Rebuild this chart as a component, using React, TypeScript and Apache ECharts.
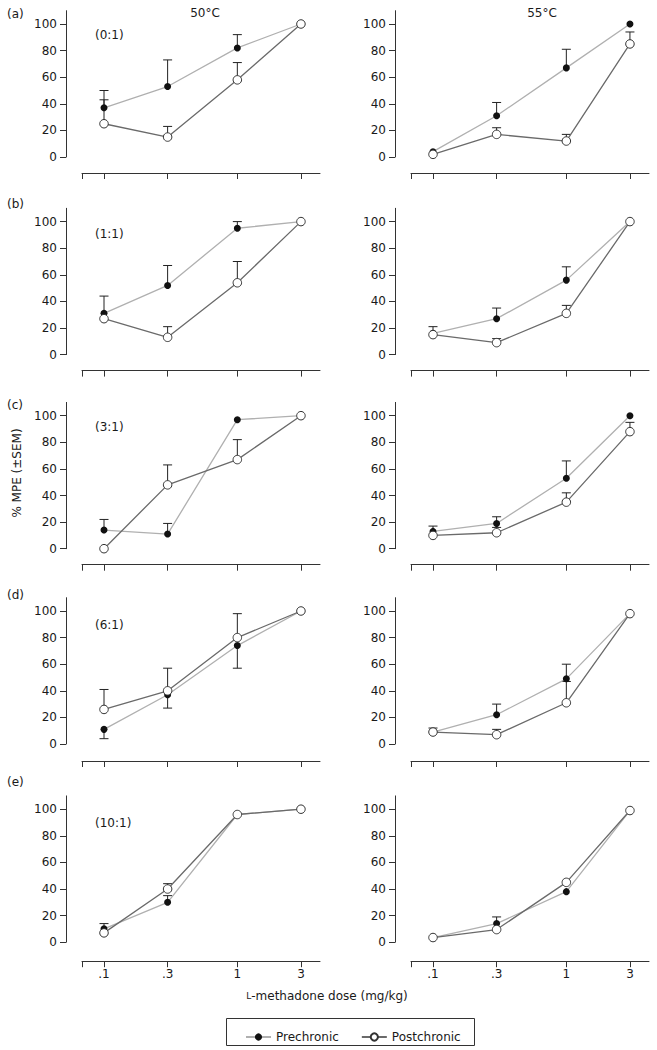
import React, { useEffect, useRef } from 'react';
import * as echarts from 'echarts';

// ---------- data ----------
const doses = [0.1, 0.3, 1, 3];
const doseLabels = ['.1', '.3', '1', '3'];
const yTickValues = [0, 20, 40, 60, 80, 100];
const panelLetters = ['(a)', '(b)', '(c)', '(d)', '(e)'];
const ratioLabels = ['(0:1)', '(1:1)', '(3:1)', '(6:1)', '(10:1)'];
const temperatures = ['50°C', '55°C'];
const seriesNames = ['Prechronic', 'Postchronic'];
const yAxisTitle = '% MPE (±SEM)';

// 50°C column, rows = ratios
const pre50 = [
  [37, 53, 82, 100],
  [31, 52, 95, 100],
  [14, 11, 97, 100],
  [11, 37, 74, 100],
  [10, 30, 96, 100],
];
const pre50ErrEnd = [
  [50, 73, 92, null],
  [44, 67, 100, null],
  [22, 19, null, null],
  [4, 27, 57, null],
  [14, 35, null, null],
];
const post50 = [
  [25, 15, 58, 100],
  [27, 13, 54, 100],
  [0, 48, 67, 100],
  [26, 40, 80, 100],
  [7, 40, 96, 100],
];
const post50ErrEnd = [
  [43, 23, 71, null],
  [null, 21, 70, null],
  [null, 63, 82, null],
  [41, 57, 98, null],
  [null, 44, null, null],
];

// 55°C column
const pre55 = [
  [4, 31, 67, 100],
  [16, 27, 56, 100],
  [13, 19, 53, 100],
  [9, 22, 49, 98],
  [3.5, 14, 38, 99],
];
const pre55ErrEnd = [
  [null, 41, 81, null],
  [21, 35, 66, null],
  [17, 24, 66, null],
  [12, 30, 60, null],
  [null, 19, null, null],
];
const post55 = [
  [2, 17, 12, 85],
  [15, 9, 31, 100],
  [10, 12, 35, 88],
  [9, 7, 31, 98],
  [3.5, 9.5, 45, 99],
];
const post55ErrEnd = [
  [null, 22, 17, 94],
  [null, 12, 37, null],
  [null, 16, 42, 95],
  [null, 11, 47, null],
  [null, null, null, null],
];

// ---------- layout ----------
const FONT = 'DejaVu Sans';
const TXT = '#1a1a1a';
const AX = '#333';
const colLeft = [82, 411];
const gridWidth = 238;
const rowZero = [157, 354.6, 548.7, 744, 942.2];
const yMax = 110;
const gridH = 146.3;
const xAxisOffset = [16, 16, 16, 17, 19];
const xMin = -1.165;
const xMax = 0.62;
const letterY = [14, 204, 405, 595, 782];
const ratioY = [35, 234, 427, 625, 823];

const logDoses = doses.map((d) => Math.log10(d));

function buildOption() {
  const grids: any[] = [];
  const xAxes: any[] = [];
  const yAxes: any[] = [];
  const series: any[] = [];
  const cols = [
    { pre: pre50, preErr: pre50ErrEnd, post: post50, postErr: post50ErrEnd },
    { pre: pre55, preErr: pre55ErrEnd, post: post55, postErr: post55ErrEnd },
  ];

  const errRender = (params: any, api: any) => {
    const x = api.value(0);
    const v = api.value(1);
    const e = api.value(2);
    const p0 = api.coord([x, v]);
    const p1 = api.coord([x, e]);
    return {
      type: 'group',
      children: [
        { type: 'line', shape: { x1: p0[0], y1: p0[1], x2: p1[0], y2: p1[1] }, style: { stroke: '#222', lineWidth: 1 } },
        { type: 'line', shape: { x1: p1[0] - 4.5, y1: p1[1], x2: p1[0] + 4.5, y2: p1[1] }, style: { stroke: '#222', lineWidth: 1 } },
      ],
    };
  };

  for (let r = 0; r < 5; r++) {
    for (let c = 0; c < 2; c++) {
      const idx = r * 2 + c;
      grids.push({ left: colLeft[c], top: rowZero[r] - gridH, width: gridWidth, height: gridH });
      xAxes.push({
        type: 'value',
        gridIndex: idx,
        min: xMin,
        max: xMax,
        offset: xAxisOffset[r],
        axisLine: { show: true, onZero: false, lineStyle: { color: AX, width: 1 } },
        axisTick: { show: true, length: 6, customValues: [xMin, ...logDoses], lineStyle: { color: AX, width: 1 } },
        axisLabel: {
          show: r === 4,
          customValues: logDoses,
          margin: 7,
          fontFamily: FONT,
          fontSize: 12,
          color: TXT,
          formatter: (v: number) => {
            const i = logDoses.findIndex((l) => Math.abs(l - v) < 1e-6);
            return i >= 0 ? doseLabels[i] : '';
          },
        },
        splitLine: { show: false },
      });
      yAxes.push({
        type: 'value',
        gridIndex: idx,
        min: 0,
        max: yMax,
        offset: 16,
        axisLine: { show: true, onZero: false, lineStyle: { color: AX, width: 1 } },
        axisTick: { show: true, length: 6, customValues: yTickValues, lineStyle: { color: AX, width: 1 } },
        axisLabel: { customValues: yTickValues, margin: 9, fontFamily: FONT, fontSize: 12, color: TXT },
        splitLine: { show: false },
      });

      const col = cols[c];
      const pre = col.pre[r];
      const post = col.post[r];
      const preErr = col.preErr[r];
      const postErr = col.postErr[r];

      const errData: any[] = [];
      logDoses.forEach((x, i) => {
        if (preErr[i] != null) errData.push([x, pre[i], preErr[i]]);
        if (postErr[i] != null) errData.push([x, post[i], postErr[i]]);
      });
      series.push({
        type: 'custom',
        xAxisIndex: idx,
        yAxisIndex: idx,
        silent: true,
        z: 1,
        encode: { x: 0, y: 1 },
        data: errData,
        renderItem: errRender,
      });
      series.push({
        type: 'line',
        name: seriesNames[0],
        xAxisIndex: idx,
        yAxisIndex: idx,
        data: logDoses.map((x, i) => [x, pre[i]]),
        symbol: 'circle',
        symbolSize: 7,
        itemStyle: { color: '#111', borderWidth: 0 },
        lineStyle: { color: '#b0b0b0', width: 1.3 },
        z: 3,
        silent: true,
      });
      series.push({
        type: 'line',
        name: seriesNames[1],
        xAxisIndex: idx,
        yAxisIndex: idx,
        data: logDoses.map((x, i) => [x, post[i]]),
        symbol: 'circle',
        symbolSize: 8.5,
        itemStyle: { color: '#fff', borderColor: '#333', borderWidth: 1 },
        lineStyle: { color: '#6a6a6a', width: 1.3 },
        z: 4,
        silent: true,
      });
    }
  }

  const graphics: any[] = [];
  const textStyle = (extra: any) => ({ fontFamily: FONT, fontSize: 12, fill: TXT, ...extra });
  panelLetters.forEach((t, r) => {
    graphics.push({ type: 'text', x: 7, y: letterY[r], style: textStyle({ text: t, verticalAlign: 'middle' }) });
  });
  ratioLabels.forEach((t, r) => {
    graphics.push({ type: 'text', x: 95, y: ratioY[r], style: textStyle({ text: t, verticalAlign: 'middle' }) });
  });
  graphics.push({ type: 'text', x: 205, y: 13, style: textStyle({ text: temperatures[0], align: 'center', verticalAlign: 'middle' }) });
  graphics.push({ type: 'text', x: 542, y: 13, style: textStyle({ text: temperatures[1], align: 'center', verticalAlign: 'middle' }) });
  graphics.push({
    type: 'text',
    x: 17,
    y: 473,
    rotation: Math.PI / 2,
    style: textStyle({ text: yAxisTitle, align: 'center', verticalAlign: 'middle' }),
  });
  graphics.push({
    type: 'text',
    x: 327,
    y: 996,
    style: textStyle({
      text: '{sc|L}-methadone dose (mg/kg)',
      align: 'center',
      verticalAlign: 'middle',
      rich: { sc: { fontFamily: FONT, fontSize: 9, fill: TXT } },
    }),
  });
  graphics.push({
    type: 'rect',
    shape: { x: 226.5, y: 1018.5, width: 248, height: 27 },
    style: { fill: 'none', stroke: '#333', lineWidth: 1 },
  });

  return {
    animation: false,
    backgroundColor: '#fff',
    grid: grids,
    xAxis: xAxes,
    yAxis: yAxes,
    series,
    graphic: graphics,
    legend: {
      data: seriesNames,
      left: 240,
      top: 1026,
      itemWidth: 25,
      itemHeight: 9,
      itemGap: 22,
      selectedMode: false,
      textStyle: { fontFamily: FONT, fontSize: 12, color: TXT },
    },
  };
}

export default function App() {
  const ref = useRef<HTMLDivElement>(null);
  useEffect(() => {
    if (!ref.current) return;
    const chart = echarts.init(ref.current, undefined, { renderer: 'svg' });
    chart.setOption(buildOption());
    return () => chart.dispose();
  }, []);
  return <div ref={ref} style={{ position: 'absolute', left: 0, top: 0, width: 657, height: 1050 }} />;
}
